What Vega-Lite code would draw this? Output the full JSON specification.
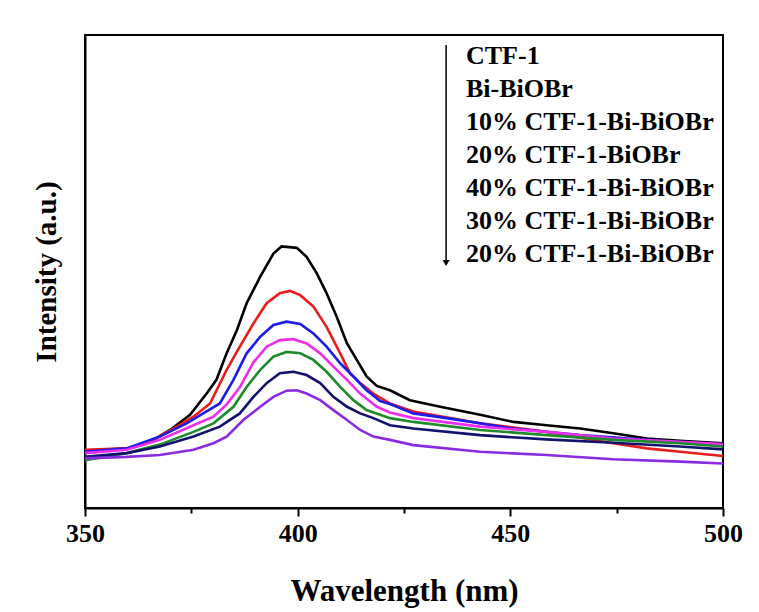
{
  "$schema": "https://vega.github.io/schema/vega-lite/v6.json",
  "width": 638,
  "height": 473,
  "autosize": "none",
  "padding": {"left": 85, "top": 35, "right": 36, "bottom": 104},
  "background": "white",
  "config": {
    "view": {"stroke": "black", "strokeWidth": 2},
    "font": "Liberation Serif"
  },
  "datasets": {
    "spectra": [
      {"s": "CTF-1", "w": 350, "v": 12.1}, {"s": "CTF-1", "w": 360, "v": 12.6}, {"s": "CTF-1", "w": 363.7, "v": 13.4}, {"s": "CTF-1", "w": 366.1, "v": 14.4}, {"s": "CTF-1", "w": 370, "v": 16.5}, {"s": "CTF-1", "w": 374.7, "v": 19.7}, {"s": "CTF-1", "w": 378.6, "v": 24.2}, {"s": "CTF-1", "w": 380.9, "v": 27.1}, {"s": "CTF-1", "w": 383.3, "v": 32.7}, {"s": "CTF-1", "w": 385.7, "v": 37.6}, {"s": "CTF-1", "w": 388, "v": 43.3}, {"s": "CTF-1", "w": 391.2, "v": 48.9}, {"s": "CTF-1", "w": 394.3, "v": 53.8}, {"s": "CTF-1", "w": 396.2, "v": 55.3}, {"s": "CTF-1", "w": 399.8, "v": 55.0}, {"s": "CTF-1", "w": 402.1, "v": 53.1}, {"s": "CTF-1", "w": 404.5, "v": 49.6}, {"s": "CTF-1", "w": 406.8, "v": 45.4}, {"s": "CTF-1", "w": 409.2, "v": 40.4}, {"s": "CTF-1", "w": 411.6, "v": 34.8}, {"s": "CTF-1", "w": 413.9, "v": 31.3}, {"s": "CTF-1", "w": 416.2, "v": 27.8}, {"s": "CTF-1", "w": 418.6, "v": 25.8}, {"s": "CTF-1", "w": 421.7, "v": 24.9}, {"s": "CTF-1", "w": 426.4, "v": 22.8}, {"s": "CTF-1", "w": 433.5, "v": 21.4}, {"s": "CTF-1", "w": 442.9, "v": 19.7}, {"s": "CTF-1", "w": 450.7, "v": 18.2}, {"s": "CTF-1", "w": 458.5, "v": 17.5}, {"s": "CTF-1", "w": 466.4, "v": 16.8}, {"s": "CTF-1", "w": 474.2, "v": 15.8}, {"s": "CTF-1", "w": 482.1, "v": 14.7}, {"s": "CTF-1", "w": 489.9, "v": 14.2}, {"s": "CTF-1", "w": 500, "v": 13.7},
      {"s": "Bi-BiOBr", "w": 350, "v": 12.3}, {"s": "Bi-BiOBr", "w": 359.8, "v": 12.6}, {"s": "Bi-BiOBr", "w": 366.1, "v": 14.4}, {"s": "Bi-BiOBr", "w": 371.6, "v": 17.2}, {"s": "Bi-BiOBr", "w": 375.5, "v": 19.3}, {"s": "Bi-BiOBr", "w": 379.4, "v": 22.1}, {"s": "Bi-BiOBr", "w": 383.3, "v": 29.2}, {"s": "Bi-BiOBr", "w": 386.4, "v": 34.1}, {"s": "Bi-BiOBr", "w": 389.6, "v": 39.0}, {"s": "Bi-BiOBr", "w": 392.7, "v": 43.3}, {"s": "Bi-BiOBr", "w": 395.8, "v": 45.4}, {"s": "Bi-BiOBr", "w": 398.2, "v": 45.9}, {"s": "Bi-BiOBr", "w": 400.6, "v": 45.0}, {"s": "Bi-BiOBr", "w": 403.7, "v": 42.6}, {"s": "Bi-BiOBr", "w": 406.8, "v": 38.3}, {"s": "Bi-BiOBr", "w": 410, "v": 32.7}, {"s": "Bi-BiOBr", "w": 412.3, "v": 28.5}, {"s": "Bi-BiOBr", "w": 414.7, "v": 26.4}, {"s": "Bi-BiOBr", "w": 417.8, "v": 24.2}, {"s": "Bi-BiOBr", "w": 421.7, "v": 22.1}, {"s": "Bi-BiOBr", "w": 427.2, "v": 20.4}, {"s": "Bi-BiOBr", "w": 442.9, "v": 17.9}, {"s": "Bi-BiOBr", "w": 458.5, "v": 16.1}, {"s": "Bi-BiOBr", "w": 474.2, "v": 13.7}, {"s": "Bi-BiOBr", "w": 482.1, "v": 12.6}, {"s": "Bi-BiOBr", "w": 489.9, "v": 11.9}, {"s": "Bi-BiOBr", "w": 500, "v": 11.0},
      {"s": "10% CTF-1-Bi-BiOBr", "w": 350, "v": 11.9}, {"s": "10% CTF-1-Bi-BiOBr", "w": 359.8, "v": 12.6}, {"s": "10% CTF-1-Bi-BiOBr", "w": 367.6, "v": 15.1}, {"s": "10% CTF-1-Bi-BiOBr", "w": 373.9, "v": 17.9}, {"s": "10% CTF-1-Bi-BiOBr", "w": 377.8, "v": 20.0}, {"s": "10% CTF-1-Bi-BiOBr", "w": 381.7, "v": 22.1}, {"s": "10% CTF-1-Bi-BiOBr", "w": 384.9, "v": 27.1}, {"s": "10% CTF-1-Bi-BiOBr", "w": 388, "v": 32.7}, {"s": "10% CTF-1-Bi-BiOBr", "w": 391.2, "v": 36.2}, {"s": "10% CTF-1-Bi-BiOBr", "w": 394.3, "v": 38.7}, {"s": "10% CTF-1-Bi-BiOBr", "w": 397.4, "v": 39.4}, {"s": "10% CTF-1-Bi-BiOBr", "w": 400.6, "v": 38.9}, {"s": "10% CTF-1-Bi-BiOBr", "w": 403.7, "v": 36.9}, {"s": "10% CTF-1-Bi-BiOBr", "w": 406.8, "v": 34.1}, {"s": "10% CTF-1-Bi-BiOBr", "w": 410, "v": 30.6}, {"s": "10% CTF-1-Bi-BiOBr", "w": 413.1, "v": 27.8}, {"s": "10% CTF-1-Bi-BiOBr", "w": 416.2, "v": 24.9}, {"s": "10% CTF-1-Bi-BiOBr", "w": 419.4, "v": 22.6}, {"s": "10% CTF-1-Bi-BiOBr", "w": 421.7, "v": 22.0}, {"s": "10% CTF-1-Bi-BiOBr", "w": 427.2, "v": 20.0}, {"s": "10% CTF-1-Bi-BiOBr", "w": 435, "v": 19.0}, {"s": "10% CTF-1-Bi-BiOBr", "w": 450.7, "v": 16.8}, {"s": "10% CTF-1-Bi-BiOBr", "w": 466.4, "v": 15.4}, {"s": "10% CTF-1-Bi-BiOBr", "w": 482.1, "v": 14.4}, {"s": "10% CTF-1-Bi-BiOBr", "w": 500, "v": 13.3},
      {"s": "20% CTF-1-BiOBr", "w": 350, "v": 11.6}, {"s": "20% CTF-1-BiOBr", "w": 359.8, "v": 12.3}, {"s": "20% CTF-1-BiOBr", "w": 367.6, "v": 14.4}, {"s": "20% CTF-1-BiOBr", "w": 375.5, "v": 17.5}, {"s": "20% CTF-1-BiOBr", "w": 380.2, "v": 19.3}, {"s": "20% CTF-1-BiOBr", "w": 383.3, "v": 21.9}, {"s": "20% CTF-1-BiOBr", "w": 386.4, "v": 25.5}, {"s": "20% CTF-1-BiOBr", "w": 389.6, "v": 30.8}, {"s": "20% CTF-1-BiOBr", "w": 392.7, "v": 34.1}, {"s": "20% CTF-1-BiOBr", "w": 395.8, "v": 35.5}, {"s": "20% CTF-1-BiOBr", "w": 399, "v": 35.7}, {"s": "20% CTF-1-BiOBr", "w": 402.1, "v": 34.8}, {"s": "20% CTF-1-BiOBr", "w": 405.3, "v": 32.7}, {"s": "20% CTF-1-BiOBr", "w": 408.4, "v": 29.9}, {"s": "20% CTF-1-BiOBr", "w": 411.6, "v": 27.1}, {"s": "20% CTF-1-BiOBr", "w": 414.7, "v": 24.2}, {"s": "20% CTF-1-BiOBr", "w": 418.6, "v": 21.4}, {"s": "20% CTF-1-BiOBr", "w": 421.7, "v": 20.2}, {"s": "20% CTF-1-BiOBr", "w": 427.2, "v": 19.0}, {"s": "20% CTF-1-BiOBr", "w": 442.9, "v": 17.2}, {"s": "20% CTF-1-BiOBr", "w": 458.5, "v": 16.1}, {"s": "20% CTF-1-BiOBr", "w": 474.2, "v": 14.7}, {"s": "20% CTF-1-BiOBr", "w": 489.9, "v": 14.0}, {"s": "20% CTF-1-BiOBr", "w": 500, "v": 13.5},
      {"s": "40% CTF-1-Bi-BiOBr", "w": 350, "v": 10.1}, {"s": "40% CTF-1-Bi-BiOBr", "w": 359.8, "v": 11.6}, {"s": "40% CTF-1-Bi-BiOBr", "w": 367.6, "v": 13.4}, {"s": "40% CTF-1-Bi-BiOBr", "w": 375.5, "v": 16.1}, {"s": "40% CTF-1-Bi-BiOBr", "w": 380.2, "v": 17.9}, {"s": "40% CTF-1-Bi-BiOBr", "w": 384.9, "v": 21.4}, {"s": "40% CTF-1-Bi-BiOBr", "w": 388, "v": 25.6}, {"s": "40% CTF-1-Bi-BiOBr", "w": 391.2, "v": 29.2}, {"s": "40% CTF-1-Bi-BiOBr", "w": 394.3, "v": 32.0}, {"s": "40% CTF-1-Bi-BiOBr", "w": 397.4, "v": 33.0}, {"s": "40% CTF-1-Bi-BiOBr", "w": 400.6, "v": 32.7}, {"s": "40% CTF-1-Bi-BiOBr", "w": 403.7, "v": 31.3}, {"s": "40% CTF-1-Bi-BiOBr", "w": 406.8, "v": 28.8}, {"s": "40% CTF-1-Bi-BiOBr", "w": 410, "v": 25.6}, {"s": "40% CTF-1-Bi-BiOBr", "w": 413.1, "v": 22.8}, {"s": "40% CTF-1-Bi-BiOBr", "w": 416.2, "v": 20.7}, {"s": "40% CTF-1-Bi-BiOBr", "w": 419.4, "v": 19.7}, {"s": "40% CTF-1-Bi-BiOBr", "w": 421.7, "v": 19.0}, {"s": "40% CTF-1-Bi-BiOBr", "w": 427.2, "v": 18.2}, {"s": "40% CTF-1-Bi-BiOBr", "w": 442.9, "v": 16.5}, {"s": "40% CTF-1-Bi-BiOBr", "w": 458.5, "v": 15.4}, {"s": "40% CTF-1-Bi-BiOBr", "w": 474.2, "v": 14.4}, {"s": "40% CTF-1-Bi-BiOBr", "w": 489.9, "v": 13.7}, {"s": "40% CTF-1-Bi-BiOBr", "w": 500, "v": 13.0},
      {"s": "30% CTF-1-Bi-BiOBr", "w": 350, "v": 10.8}, {"s": "30% CTF-1-Bi-BiOBr", "w": 359.8, "v": 11.6}, {"s": "30% CTF-1-Bi-BiOBr", "w": 367.6, "v": 13.0}, {"s": "30% CTF-1-Bi-BiOBr", "w": 375.5, "v": 15.1}, {"s": "30% CTF-1-Bi-BiOBr", "w": 381.7, "v": 17.2}, {"s": "30% CTF-1-Bi-BiOBr", "w": 386.4, "v": 20.0}, {"s": "30% CTF-1-Bi-BiOBr", "w": 389.6, "v": 23.5}, {"s": "30% CTF-1-Bi-BiOBr", "w": 392.7, "v": 26.4}, {"s": "30% CTF-1-Bi-BiOBr", "w": 395.8, "v": 28.5}, {"s": "30% CTF-1-Bi-BiOBr", "w": 399, "v": 28.8}, {"s": "30% CTF-1-Bi-BiOBr", "w": 402.1, "v": 28.1}, {"s": "30% CTF-1-Bi-BiOBr", "w": 405.3, "v": 26.4}, {"s": "30% CTF-1-Bi-BiOBr", "w": 408.4, "v": 23.5}, {"s": "30% CTF-1-Bi-BiOBr", "w": 411.6, "v": 21.4}, {"s": "30% CTF-1-Bi-BiOBr", "w": 414.7, "v": 20.0}, {"s": "30% CTF-1-Bi-BiOBr", "w": 417.8, "v": 19.0}, {"s": "30% CTF-1-Bi-BiOBr", "w": 421.7, "v": 17.5}, {"s": "30% CTF-1-Bi-BiOBr", "w": 427.2, "v": 16.8}, {"s": "30% CTF-1-Bi-BiOBr", "w": 442.9, "v": 15.4}, {"s": "30% CTF-1-Bi-BiOBr", "w": 458.5, "v": 14.5}, {"s": "30% CTF-1-Bi-BiOBr", "w": 474.2, "v": 13.8}, {"s": "30% CTF-1-Bi-BiOBr", "w": 489.9, "v": 13.0}, {"s": "30% CTF-1-Bi-BiOBr", "w": 500, "v": 12.4},
      {"s": "20% CTF-1-Bi-BiOBr", "w": 350, "v": 10.5}, {"s": "20% CTF-1-Bi-BiOBr", "w": 359.8, "v": 10.8}, {"s": "20% CTF-1-Bi-BiOBr", "w": 367.6, "v": 11.2}, {"s": "20% CTF-1-Bi-BiOBr", "w": 375.5, "v": 12.3}, {"s": "20% CTF-1-Bi-BiOBr", "w": 380.2, "v": 13.7}, {"s": "20% CTF-1-Bi-BiOBr", "w": 383.3, "v": 15.1}, {"s": "20% CTF-1-Bi-BiOBr", "w": 387.2, "v": 18.6}, {"s": "20% CTF-1-Bi-BiOBr", "w": 391.2, "v": 21.4}, {"s": "20% CTF-1-Bi-BiOBr", "w": 394.3, "v": 23.5}, {"s": "20% CTF-1-Bi-BiOBr", "w": 397.4, "v": 24.8}, {"s": "20% CTF-1-Bi-BiOBr", "w": 399.8, "v": 24.9}, {"s": "20% CTF-1-Bi-BiOBr", "w": 402.1, "v": 24.2}, {"s": "20% CTF-1-Bi-BiOBr", "w": 405.3, "v": 22.8}, {"s": "20% CTF-1-Bi-BiOBr", "w": 408.4, "v": 20.7}, {"s": "20% CTF-1-Bi-BiOBr", "w": 411.6, "v": 18.6}, {"s": "20% CTF-1-Bi-BiOBr", "w": 414.7, "v": 16.5}, {"s": "20% CTF-1-Bi-BiOBr", "w": 417.8, "v": 15.1}, {"s": "20% CTF-1-Bi-BiOBr", "w": 421.7, "v": 14.4}, {"s": "20% CTF-1-Bi-BiOBr", "w": 427.2, "v": 13.3}, {"s": "20% CTF-1-Bi-BiOBr", "w": 442.9, "v": 11.9}, {"s": "20% CTF-1-Bi-BiOBr", "w": 458.5, "v": 11.2}, {"s": "20% CTF-1-Bi-BiOBr", "w": 474.2, "v": 10.3}, {"s": "20% CTF-1-Bi-BiOBr", "w": 489.9, "v": 9.8}, {"s": "20% CTF-1-Bi-BiOBr", "w": 500, "v": 9.4}
    ],
    "arrow": [{"w": 434.9, "v": 51.8, "v2": 97.9}]
  },
  "layer": [
    {
      "data": {"name": "spectra"},
      "mark": {"type": "line", "strokeWidth": 2.6, "interpolate": "linear"},
      "encoding": {
        "x": {
          "field": "w", "type": "quantitative",
          "scale": {"domain": [350, 500], "nice": false, "zero": false},
          "axis": {
            "title": "Wavelength (nm)",
            "values": [350, 375, 400, 425, 450, 475, 500],
            "labelExpr": "datum.value % 50 === 0 ? datum.label : ''",
            "tickSize": {"condition": {"test": "datum.value % 50 === 0", "value": 8}, "value": 5},
            "tickColor": "black", "tickWidth": 2,
            "domainColor": "black", "domainWidth": 2,
            "grid": false, "labelFlush": false,
            "labelFont": "Liberation Serif", "labelFontSize": 26, "labelFontWeight": "bold", "labelColor": "black", "labelPadding": 4,
            "titleFont": "Liberation Serif", "titleFontSize": 31, "titleFontWeight": "bold", "titleColor": "black", "titlePadding": 30
          }
        },
        "y": {
          "field": "v", "type": "quantitative",
          "scale": {"domain": [0, 100], "nice": false},
          "axis": {
            "title": "Intensity (a.u.)",
            "labels": false, "ticks": false, "grid": false,
            "domainColor": "black", "domainWidth": 2,
            "titleFont": "Liberation Serif", "titleFontSize": 29, "titleFontWeight": "bold", "titleColor": "black", "titlePadding": 24
          }
        },
        "color": {
          "field": "s", "type": "nominal",
          "scale": {
            "domain": ["CTF-1", "Bi-BiOBr", "10% CTF-1-Bi-BiOBr", "20% CTF-1-BiOBr", "40% CTF-1-Bi-BiOBr", "30% CTF-1-Bi-BiOBr", "20% CTF-1-Bi-BiOBr"],
            "range": ["#000000", "#ea1c1c", "#1c1ce6", "#ee2cee", "#1e8a2a", "#12126e", "#8a2be2"]
          },
          "legend": {
            "orient": "none", "legendX": 355, "legendY": 8,
            "title": null,
            "symbolOpacity": 0, "symbolSize": 0, "symbolStrokeWidth": 0,
            "labelOffset": 0, "labelLimit": 400,
            "labelFont": "Liberation Serif", "labelFontSize": 26, "labelFontWeight": "bold", "labelColor": "black",
            "rowPadding": 7, "padding": 0
          }
        }
      }
    },
    {
      "data": {"name": "arrow"},
      "mark": {"type": "rule", "color": "black", "strokeWidth": 1.5},
      "encoding": {
        "x": {"field": "w", "type": "quantitative"},
        "y": {"field": "v", "type": "quantitative"},
        "y2": {"field": "v2"}
      }
    },
    {
      "data": {"name": "arrow"},
      "mark": {"type": "point", "shape": "triangle-down", "filled": true, "color": "black", "size": 50, "opacity": 1},
      "encoding": {
        "x": {"field": "w", "type": "quantitative"},
        "y": {"field": "v", "type": "quantitative"}
      }
    }
  ]
}
